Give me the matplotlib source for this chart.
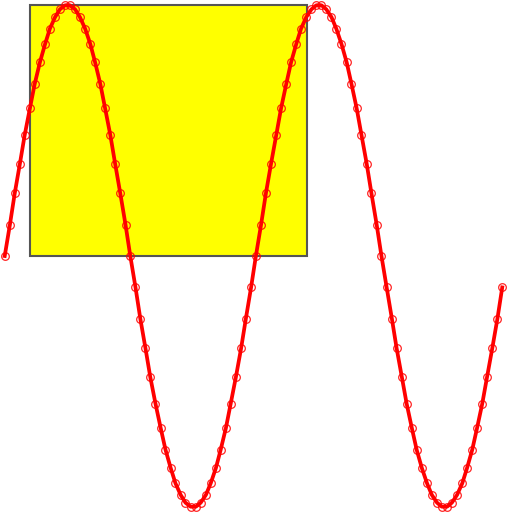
import matplotlib
matplotlib.use("Agg")  # headless
import matplotlib.pyplot as plt
from matplotlib.patches import Rectangle

# sample positions along x (two full periods, 100 samples)
x_vals = [
    0.00, 0.13, 0.25, 0.38, 0.50, 0.63, 0.75, 0.88, 1.01, 1.13,
    1.26, 1.38, 1.51, 1.63, 1.76, 1.88, 2.01, 2.14, 2.26, 2.39,
    2.51, 2.64, 2.76, 2.89, 3.02, 3.14, 3.27, 3.39, 3.52, 3.64,
    3.77, 3.90, 4.02, 4.15, 4.27, 4.40, 4.52, 4.65, 4.78, 4.90,
    5.03, 5.15, 5.28, 5.40, 5.53, 5.65, 5.78, 5.91, 6.03, 6.16,
    6.28, 6.41, 6.53, 6.66, 6.79, 6.91, 7.04, 7.16, 7.29, 7.41,
    7.54, 7.67, 7.79, 7.92, 8.04, 8.17, 8.29, 8.42, 8.55, 8.67,
    8.80, 8.92, 9.05, 9.17, 9.30, 9.42, 9.55, 9.68, 9.80, 9.93,
    10.05, 10.18, 10.30, 10.43, 10.56, 10.68, 10.81, 10.93, 11.06, 11.18,
    11.31, 11.44, 11.56, 11.69, 11.81, 11.94, 12.06, 12.19, 12.32, 12.44,
]

# wave values
y_vals = [
    0.000, 0.125, 0.249, 0.368, 0.482, 0.588, 0.685, 0.771, 0.844, 0.905,
    0.951, 0.982, 0.998, 0.998, 0.982, 0.951, 0.905, 0.844, 0.771, 0.685,
    0.588, 0.482, 0.368, 0.249, 0.125, 0.000, -0.125, -0.249, -0.368, -0.482,
    -0.588, -0.685, -0.771, -0.844, -0.905, -0.951, -0.982, -0.998, -0.998, -0.982,
    -0.951, -0.905, -0.844, -0.771, -0.685, -0.588, -0.482, -0.368, -0.249, -0.125,
    0.000, 0.125, 0.249, 0.368, 0.482, 0.588, 0.685, 0.771, 0.844, 0.905,
    0.951, 0.982, 0.998, 0.998, 0.982, 0.951, 0.905, 0.844, 0.771, 0.685,
    0.588, 0.482, 0.368, 0.249, 0.125, 0.000, -0.125, -0.249, -0.368, -0.482,
    -0.588, -0.685, -0.771, -0.844, -0.905, -0.951, -0.982, -0.998, -0.998, -0.982,
    -0.951, -0.905, -0.844, -0.771, -0.685, -0.588, -0.482, -0.368, -0.249, -0.125,
]

# yellow box: lower-left corner and size in data units
box_xy = (0.62, 0.0)
box_w, box_h = 6.93, 1.0

fig = plt.figure(figsize=(5.12, 5.12), dpi=100)
ax = fig.add_axes([0, 0, 1, 1])
ax.set_axis_off()

ax.add_patch(Rectangle(box_xy, box_w, box_h, facecolor="#ffff00",
                       edgecolor="#555555", linewidth=1.5, zorder=1))

ax.plot(x_vals, y_vals, color="red", linewidth=2.7, zorder=2)
ax.plot(x_vals, y_vals, linestyle="none", marker="o", markersize=5.5,
        markerfacecolor="none", markeredgecolor="red", markeredgewidth=0.9,
        alpha=0.85, zorder=3)

ax.set_xlim(-0.118, 12.684)
ax.set_ylim(-1.019, 1.019)

fig.savefig("out.png", dpi=100)
